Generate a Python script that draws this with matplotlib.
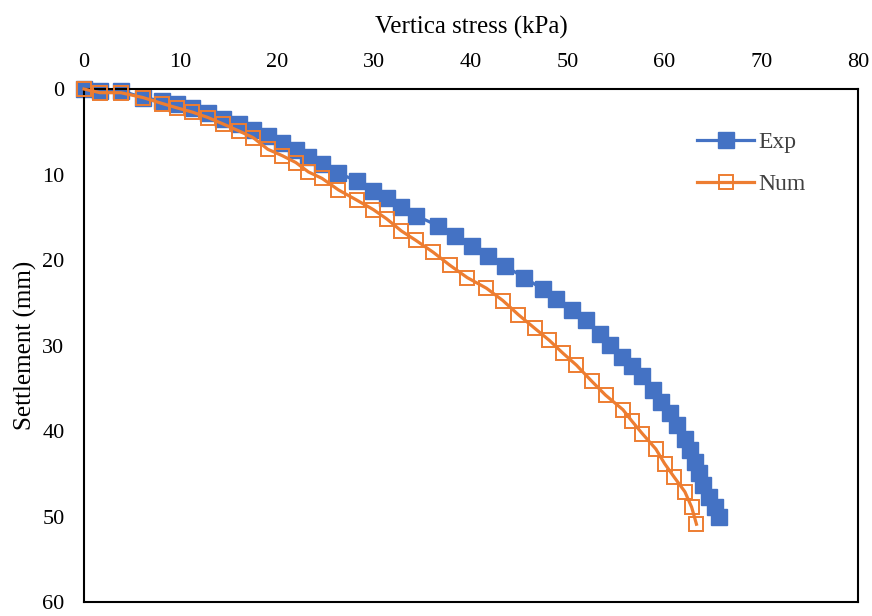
import matplotlib
matplotlib.use("Agg")
import matplotlib.pyplot as plt

exp_stress = [0, 1.65, 3.8, 6.1, 8.1, 9.6, 11.2, 12.85, 14.4, 16.0, 17.5, 19.0, 20.5, 21.9, 23.2, 24.6,
              26.3, 28.2, 29.9, 31.3, 32.8, 34.3, 36.6, 38.3, 40.1, 41.8, 43.5, 45.5, 47.4, 48.8, 50.4,
              51.9, 53.3, 54.4, 55.6, 56.6, 57.7, 58.8, 59.6, 60.6, 61.3, 62.1, 62.6, 63.2, 63.6, 64.0,
              64.6, 65.2, 65.6]
exp_settle = [0, 0.2, 0.2, 1.0, 1.4, 1.8, 2.25, 2.8, 3.5, 4.1, 4.8, 5.5, 6.35, 7.1, 8.0, 8.8,
              9.8, 10.8, 11.9, 12.8, 13.8, 14.8, 16.0, 17.2, 18.4, 19.5, 20.7, 22.05, 23.4, 24.6, 25.8,
              27.0, 28.6, 29.9, 31.3, 32.4, 33.6, 35.2, 36.6, 37.9, 39.3, 40.9, 42.2, 43.6, 44.9, 46.3,
              47.7, 48.9, 50.0]

num_stress = [0, 1.65, 3.8, 6.1, 8.1, 9.6, 11.2, 12.85, 14.4, 16.0, 17.5, 19.0, 20.5, 21.9, 23.2, 24.6,
              26.3, 28.2, 29.9, 31.3, 32.8, 34.3, 36.1, 37.8, 39.6, 41.6, 43.3, 44.9, 46.6, 48.1, 49.5,
              50.9, 52.5, 53.9, 55.7, 56.6, 57.7, 59.1, 60.0, 61.0, 62.1, 62.8, 63.3]
num_settle = [0, 0.43, 0.43, 1.0, 1.7, 2.2, 2.7, 3.35, 4.1, 4.9, 5.7, 7.05, 7.8, 8.6, 9.7, 10.45,
              11.8, 13.0, 14.1, 15.2, 16.6, 17.7, 19.1, 20.6, 22.05, 23.3, 24.75, 26.4, 28.0, 29.4, 30.9,
              32.3, 34.2, 35.8, 37.5, 38.8, 40.3, 42.1, 43.8, 45.4, 47.1, 48.9, 50.9]

x_ticks = [0, 10, 20, 30, 40, 50, 60, 70, 80]
y_ticks = [0, 10, 20, 30, 40, 50, 60]

plt.rcParams['font.family'] = ['Liberation Serif', 'DejaVu Serif']

fig = plt.figure(figsize=(8.72, 6.16), dpi=100)
ax = fig.add_axes([0.0963, 0.0227, 0.8877, 0.8328])

ax.plot(exp_stress, exp_settle, color='#4472C4', lw=2.3, marker='s', ms=11,
        mfc='#4472C4', mec='#4472C4', label='Exp', zorder=2, clip_on=False)
ax.plot(num_stress, num_settle, color='#ED7D31', lw=2.3, marker='s', ms=9.5,
        mfc='none', mec='#ED7D31', mew=1.4, label='Num', zorder=3, clip_on=False)

ax.set_xlim(0, 80)
ax.set_ylim(60, 0)
ax.set_xticks(x_ticks)
ax.set_yticks(y_ticks)
ax.xaxis.tick_top()
ax.xaxis.set_label_position('top')
ax.tick_params(axis='both', length=0, labelsize=16, colors='black')
ax.tick_params(axis='x', pad=12)
ax.tick_params(axis='y', pad=14)
ax.set_xlabel('Vertica stress (kPa)', fontsize=18, labelpad=14)
ax.set_ylabel('Settlement (mm)', fontsize=18, labelpad=4)
for s in ax.spines.values():
    s.set_linewidth(1.5)
    s.set_color('black')

leg = ax.legend(loc='upper left', bbox_to_anchor=(0.765, 0.958), frameon=False, fontsize=17,
                handlelength=2.4, labelspacing=0.85, handletextpad=0.2)
for t in leg.get_texts():
    t.set_color('#404040')

fig.savefig('out.png', dpi=100)
